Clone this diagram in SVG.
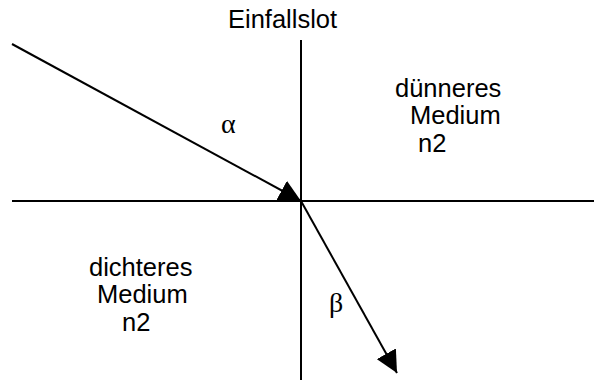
<svg xmlns="http://www.w3.org/2000/svg" width="607" height="380" viewBox="0 0 607 380">
<style>
.t{font-family:"Liberation Sans",Arial,sans-serif;font-size:25.5px;fill:#000}
.g{font-family:"Liberation Serif","Times New Roman",serif;font-size:28px;fill:#000}
.ln{stroke:#000;stroke-width:2;fill:none}
</style>
<defs>
<marker id="ah" viewBox="0 0 22 22" refX="22" refY="11" markerWidth="22" markerHeight="22" markerUnits="userSpaceOnUse" orient="auto">
<path d="M0,0 L22,11 L0,22 Z" fill="#000"/>
</marker>
</defs>
<rect width="607" height="380" fill="#fff"/>
<g id="connectors">
<line class="ln" x1="301" y1="40" x2="301" y2="380"/>
<line class="ln" x1="12" y1="201" x2="594" y2="201"/>
<line class="ln" x1="12" y1="44" x2="301" y2="201" marker-end="url(#ah)"/>
<line class="ln" x1="301" y1="201" x2="397" y2="373" marker-end="url(#ah)"/>
</g>
<g id="einfallslot"><text class="t" x="228" y="28">Einfallslot</text></g>
<g id="alpha"><text class="g" x="221" y="133">α</text></g>
<g id="beta"><text class="g" x="329" y="312">β</text></g>
<g id="duenneres"><text class="t" x="395" y="97">dünneres</text><text class="t" x="410" y="124">Medium</text><text class="t" x="418" y="152">n2</text></g>
<g id="dichteres"><text class="t" x="89" y="276">dichteres</text><text class="t" x="97" y="303">Medium</text><text class="t" x="122" y="331">n2</text></g>
</svg>
